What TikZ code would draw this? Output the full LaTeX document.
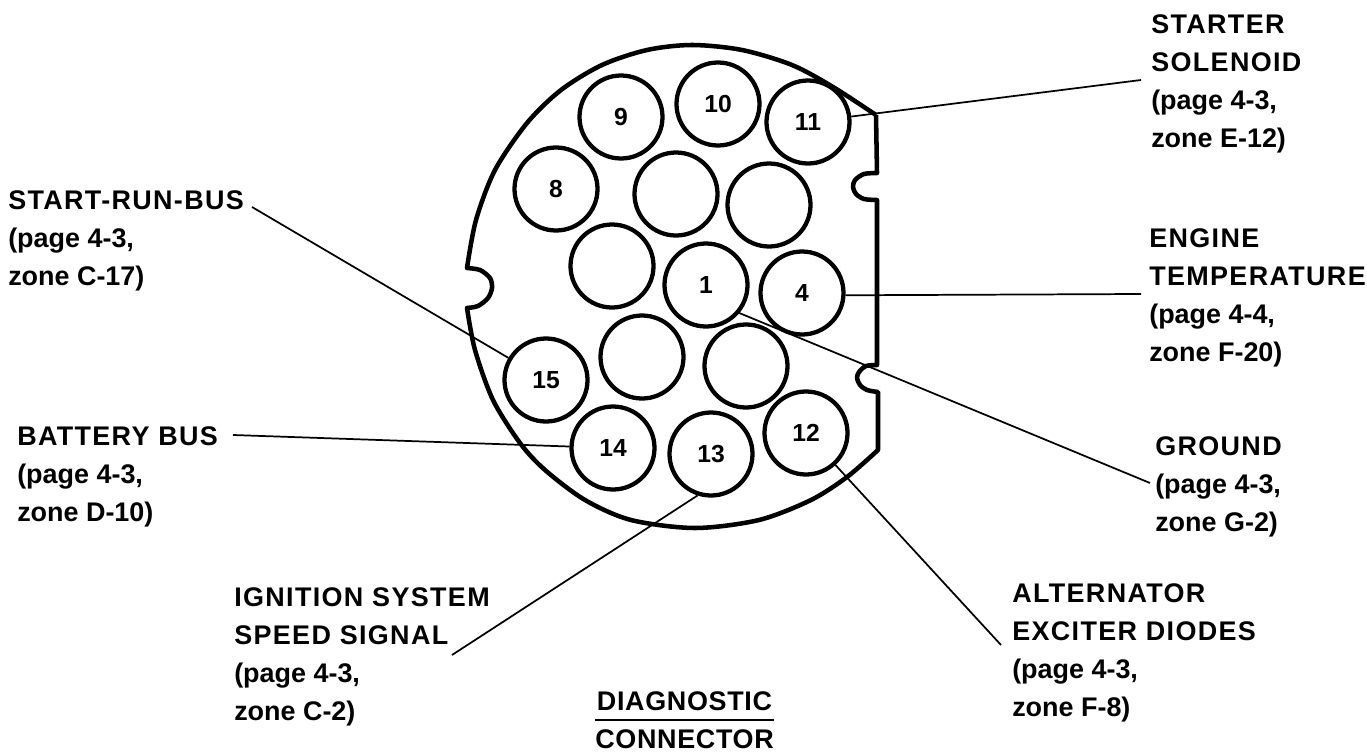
\documentclass[tikz,border=0pt]{standalone}
\usepackage{fontspec}
\setmainfont{Liberation Sans}
\newcommand{\capsp}[1]{{\addfontfeature{LetterSpace=5}#1}}
\newcommand{\titlesp}[1]{{\addfontfeature{LetterSpace=2.5}#1}}
\tikzset{
  pin/.style={draw, circle, line width=3.2pt, minimum size=62.25pt, inner sep=0pt, font=\bfseries\fontsize{18.5}{20}\selectfont},
  lbl/.style={anchor=west, align=left, inner sep=0pt, font=\bfseries\fontsize{20.2}{28.5}\selectfont},
  wire/.style={line width=1.3pt}
}
\begin{document}
\begin{tikzpicture}[x=0.75pt, y=-0.75pt]
  \useasboundingbox (0, 0) rectangle (1367, 753);
  \fill[white] (0, 0) rectangle (1367, 753);
  % shell
  \draw[line width=3.4pt, line join=round] (876, 115) -- (877, 173)
    -- plot[smooth] coordinates {(877, 173) (864, 174) (855, 180) (853, 187) (856, 194) (864, 199) (877, 200)}
    -- (877, 365)
    -- plot[smooth] coordinates {(877, 365) (866, 366) (859, 372) (857, 378) (860, 385) (867, 390) (878, 392)}
    -- (878, 450)
    -- plot[smooth] coordinates {(878, 450) (847, 477) (811, 500) (759, 520) (695, 528) (631, 520) (585, 500) (545, 470) (520, 443) (493, 400) (475, 350) (467, 308)}
    -- plot[smooth] coordinates {(467, 308) (478, 306) (488, 298) (492, 288) (490, 278) (480, 270) (467, 268)}
    -- plot[smooth] coordinates {(467, 268) (476, 220) (495, 170) (527, 123) (561, 90) (602, 65) (647, 50) (692, 45) (742, 50) (792, 65) (833, 87) (876, 115)};
  % pins
  \node[pin] (p9) at (621, 117) {9};
  \node[pin] (p10) at (718, 104) {10};
  \node[pin] (p11) at (808, 122) {11};
  \node[pin] (p8) at (556, 189) {8};
  \node[pin] (pa) at (676, 194) {};
  \node[pin] (pb) at (769, 205) {};
  \node[pin] (pc) at (612, 266) {};
  \node[pin] (p1) at (706, 285) {1};
  \node[pin] (p4) at (802, 293) {4};
  \node[pin] (pd) at (642, 357) {};
  \node[pin] (pe) at (746, 366) {};
  \node[pin] (p15) at (546, 380) {15};
  \node[pin] (p14) at (613, 448) {14};
  \node[pin] (p13) at (711, 454) {13};
  \node[pin] (p12) at (806, 433) {12};
  % labels
  \node[lbl] (solenoid) at (1151, 84) {\capsp{STARTER}\\\capsp{SOLENOID}\\(page 4-3,\\zone E-12)};
  \node[lbl] (engine) at (1149, 298) {\capsp{ENGINE}\\\capsp{TEMPERATURE}\\(page 4-4,\\zone F-20)};
  \node[lbl] (ground) at (1155, 487) {\capsp{GROUND}\\(page 4-3,\\zone G-2)};
  \node[lbl] (diodes) at (1012, 653) {\capsp{ALTERNATOR}\\\capsp{EXCITER DIODES}\\(page 4-3,\\zone F-8)};
  \node[lbl] (startrun) at (8, 241) {\capsp{START-RUN-BUS}\\(page 4-3,\\zone C-17)};
  \node[lbl] (battery) at (17, 477) {\capsp{BATTERY BUS}\\(page 4-3,\\zone D-10)};
  \node[lbl] (ignition) at (234, 657) {\capsp{IGNITION SYSTEM}\\\capsp{SPEED SIGNAL}\\(page 4-3,\\zone C-2)};
  \node[lbl, align=center] (title) at (595, 720) {\titlesp{DIAGNOSTIC}\\\titlesp{CONNECTOR}};
  \draw[line width=2pt] (title.west) -- (title.east);
  % leaders
  \coordinate (solenoidend) at (1141, 80);
  \coordinate (engineend) at (1141, 294);
  \coordinate (groundend) at (1150, 483);
  \coordinate (diodesend) at (1001, 645);
  \coordinate (startrunend) at (252, 207);
  \coordinate (batteryend) at (233, 435);
  \coordinate (ignitionend) at (452, 655);
  \draw[wire] (solenoidend) -- (p11);
  \draw[wire] (engineend) -- (p4.-3);
  \draw[wire] (groundend) -- (p1.-40);
  \draw[wire] (diodesend) -- (p12);
  \draw[wire] (startrunend) -- (p15);
  \draw[wire] (batteryend) -- (p14);
  \draw[wire] (ignitionend) -- (p13.252);
\end{tikzpicture}
\end{document}
